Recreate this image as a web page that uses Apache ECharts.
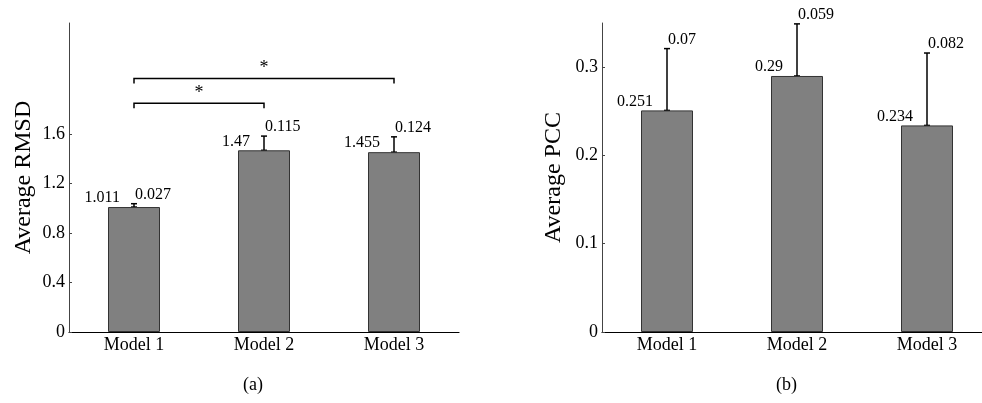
<!DOCTYPE html>
<html lang="en">
  <head>
    <meta charset="UTF-8" />
    <title>Average RMSD / PCC</title>
    <style>
      html, body { margin: 0; padding: 0; background: #fff; }
      #main { width: 982px; height: 403px; }
    </style>
  </head>
  <body>
    <div id="main"></div>

    <script src="https://cdn.jsdelivr.net/npm/echarts@6/dist/echarts.min.js"></script>
    <script>
      // data
      const models = ['Model 1', 'Model 2', 'Model 3']
      const rmsd = [1.011, 1.47, 1.455]
      const rmsdErr = [0.027, 0.115, 0.124]
      const pcc = [0.251, 0.29, 0.234]
      const pccErr = [0.07, 0.059, 0.082]
      const rmsdTicks = [0, 0.4, 0.8, 1.2, 1.6]
      const pccTicks = [0, 0.1, 0.2, 0.3]
      // significance brackets on panel (a): [from, to, height]
      const sigPairs = [[0, 1, 1.85], [0, 2, 2.05]]

      const font = 'Liberation Serif'
      let chart = echarts.init(document.querySelector('#main'))

      function yAxis(idx, name, max, ticks, gap) {
        return {
          type: 'value',
          gridIndex: idx,
          min: 0,
          max: max,
          name: name,
          nameLocation: 'middle',
          nameGap: gap,
          nameTextStyle: { fontFamily: font, fontSize: 24, color: '#000' },
          axisLine: { show: true, lineStyle: { color: '#444', width: 1 } },
          axisTick: { show: true, inside: true, length: 3, customValues: ticks, lineStyle: { color: '#444' } },
          axisLabel: { customValues: ticks, margin: 4, fontFamily: font, fontSize: 18, color: '#000' },
          splitLine: { show: false }
        }
      }

      function xAxis(idx) {
        return {
          type: 'category',
          gridIndex: idx,
          data: models,
          axisLine: { lineStyle: { color: '#000', width: 1.2 } },
          axisTick: { show: false },
          axisLabel: { margin: 4, fontFamily: font, fontSize: 18, color: '#000' }
        }
      }

      function bars(idx, vals) {
        return {
          type: 'bar',
          xAxisIndex: idx,
          yAxisIndex: idx,
          data: vals,
          barWidth: 52,
          itemStyle: { color: '#808080', borderColor: '#333', borderWidth: 1 },
          silent: true
        }
      }

      // error bar (upper only) with value and error labels
      function errBars(idx, vals, errs) {
        return {
          type: 'custom',
          xAxisIndex: idx,
          yAxisIndex: idx,
          data: vals.map((v, i) => [i, v, errs[i]]),
          encode: { x: 0, y: 1 },
          silent: true,
          renderItem(params, api) {
            let i = api.value(0)
            let v = api.value(1)
            let e = api.value(2)
            let base = api.coord([i, v])
            let top = api.coord([i, v + e])
            let ls = { stroke: '#000', lineWidth: 1.5 }
            return {
              type: 'group',
              children: [
                { type: 'line', shape: { x1: base[0], y1: base[1], x2: top[0], y2: top[1] }, style: ls },
                { type: 'line', shape: { x1: top[0] - 3, y1: top[1], x2: top[0] + 3, y2: top[1] }, style: ls },
                { type: 'line', shape: { x1: base[0] - 3, y1: base[1], x2: base[0] + 3, y2: base[1] }, style: ls },
                {
                  type: 'text',
                  style: { x: base[0] - 14, y: base[1] - 1, text: String(v), align: 'right', verticalAlign: 'bottom', font: '16px ' + font, fill: '#000' }
                },
                {
                  type: 'text',
                  style: { x: top[0] + 1, y: top[1] - 1, text: String(e), align: 'left', verticalAlign: 'bottom', font: '16px ' + font, fill: '#000' }
                }
              ]
            }
          }
        }
      }

      let option = {
        animation: false,
        grid: [
          { left: 69, top: 23, width: 390, height: 309, outerBoundsMode: 'none' },
          { left: 602, top: 23, width: 390, height: 309, outerBoundsMode: 'none' }
        ],
        xAxis: [xAxis(0), xAxis(1)],
        yAxis: [
          yAxis(0, 'Average RMSD', 2.5, rmsdTicks, 33),
          yAxis(1, 'Average PCC', 0.35, pccTicks, 36)
        ],
        series: [
          bars(0, rmsd),
          bars(1, pcc),
          errBars(0, rmsd, rmsdErr),
          errBars(1, pcc, pccErr),
          {
            type: 'custom',
            xAxisIndex: 0,
            yAxisIndex: 0,
            data: sigPairs,
            encode: { x: 0, y: 2 },
            silent: true,
            renderItem(params, api) {
              let a = api.coord([api.value(0), api.value(2)])
              let b = api.coord([api.value(1), api.value(2)])
              return {
                type: 'group',
                children: [
                  {
                    type: 'polyline',
                    shape: { points: [[a[0], a[1] + 5], [a[0], a[1]], [b[0], b[1]], [b[0], b[1] + 5]] },
                    style: { stroke: '#000', lineWidth: 1.5, fill: null }
                  },
                  {
                    type: 'text',
                    style: { x: (a[0] + b[0]) / 2, y: a[1] - 1, text: '*', align: 'center', verticalAlign: 'bottom', font: '18px ' + font, fill: '#000' }
                  }
                ]
              }
            }
          }
        ],
        graphic: [
          { type: 'text', left: 243, top: 376, style: { text: '(a)', font: '18px ' + font, fill: '#000' } },
          { type: 'text', left: 776, top: 376, style: { text: '(b)', font: '18px ' + font, fill: '#000' } }
        ]
      }
      chart.setOption(option)
    </script>
  </body>
</html>
